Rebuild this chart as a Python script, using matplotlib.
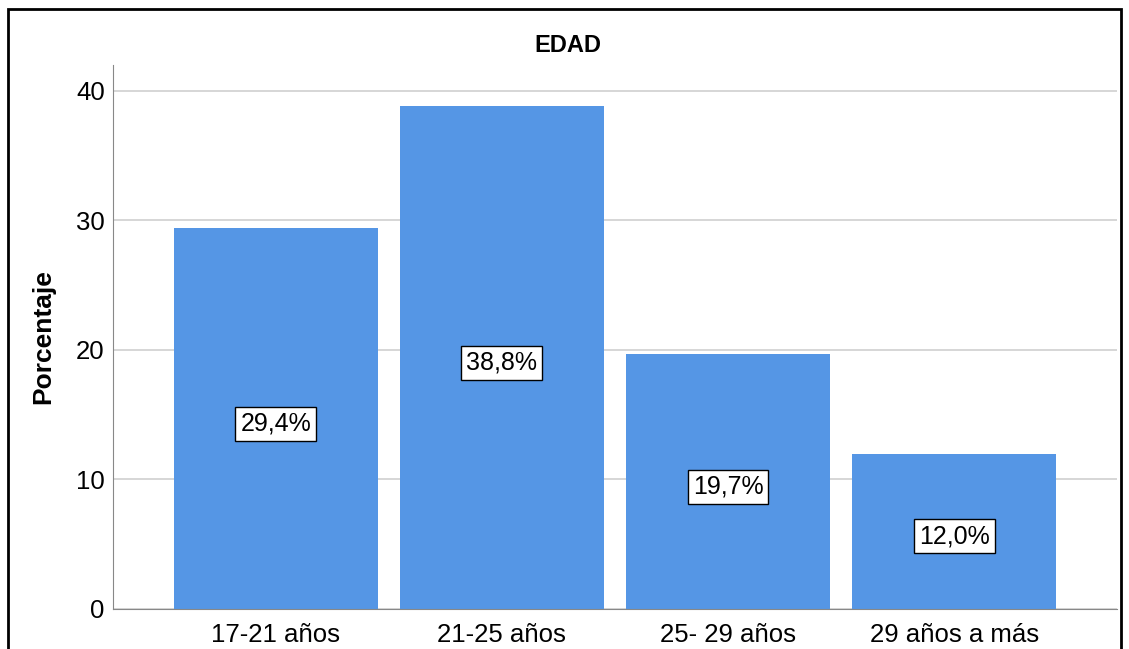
import matplotlib.pyplot as plt
from matplotlib.patches import Rectangle

categories = ['17-21 años', '21-25 años', '25- 29 años', '29 años a más']
values = [29.4, 38.8, 19.7, 12.0]
labels = ['29,4%', '38,8%', '19,7%', '12,0%']

plt.rcParams['font.family'] = ['Liberation Sans', 'DejaVu Sans']

fig = plt.figure(figsize=(11.29, 6.49), dpi=100)
ax = fig.add_axes([113 / 1129, 1 - 609 / 649, (1117 - 113) / 1129, (609 - 65) / 649])

x = list(range(len(categories)))
ax.bar(x, values, width=0.9, color='#5596e5', zorder=2)

for xi, v, lab in zip(x, values, labels):
    ax.text(xi, v / 2 - 0.4, lab, ha='center', va='center', fontsize=18,
            bbox=dict(boxstyle='square,pad=0.2', fc='white', ec='black', lw=1),
            zorder=3)

ax.set_xlim(-0.72, 3.72)
ax.set_ylim(0, 42)
ax.set_yticks([0, 10, 20, 30, 40])
ax.set_xticks(x)
ax.set_xticklabels(categories)
ax.tick_params(axis='both', length=0, labelsize=18.5, pad=6)
ax.tick_params(axis='x', pad=10)
ax.yaxis.grid(True, color='#d0d0d0', lw=1.2, zorder=1)
ax.set_axisbelow(True)

for s in ['top', 'right']:
    ax.spines[s].set_visible(False)
ax.spines['left'].set_color('#888888')
ax.spines['bottom'].set_color('#888888')

fig.text(43 / 1129, 1 - 337 / 649, 'Porcentaje', rotation=90, ha='center', va='center',
         fontsize=19, fontweight='bold')
fig.text(568 / 1129, 1 - 45 / 649, 'EDAD', ha='center', va='center',
         fontsize=17, fontweight='bold')

# outer frame
fig.patches.append(Rectangle((8 / 1129, -0.05), (1121 - 8) / 1129, 1.05 - 9 / 649,
                             transform=fig.transFigure, fill=False,
                             ec='black', lw=2))

fig.savefig('out.png', dpi=100)
